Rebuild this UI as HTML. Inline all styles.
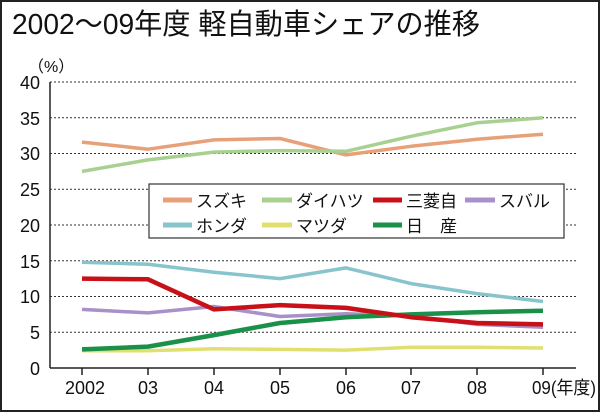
<!DOCTYPE html>
<html><head><meta charset="utf-8"><style>
html,body{margin:0;padding:0;background:#fff}
svg{display:block}
text{font-family:"Liberation Sans","Noto Sans CJK JP",sans-serif;fill:#111}
</style></head><body>
<svg width="600" height="412" viewBox="0 0 600 412" xmlns="http://www.w3.org/2000/svg">
<rect x="1" y="1" width="598" height="410" fill="#fff" stroke="#222" stroke-width="2"/>
<text x="12" y="34" font-size="29" textLength="468" lengthAdjust="spacingAndGlyphs">2002～09年度  軽自動車シェアの推移</text>
<text x="28" y="72" font-size="16">（%）</text>
<g stroke="#333" stroke-width="1" stroke-dasharray="2,2">
<line x1="50" x2="576" y1="82" y2="82"/><line x1="50" x2="576" y1="117.75" y2="117.75"/>
<line x1="50" x2="576" y1="153.5" y2="153.5"/><line x1="50" x2="576" y1="189.25" y2="189.25"/>
<line x1="50" x2="576" y1="225" y2="225"/><line x1="50" x2="576" y1="260.75" y2="260.75"/>
<line x1="50" x2="576" y1="296.5" y2="296.5"/><line x1="50" x2="576" y1="332.25" y2="332.25"/>
</g>
<g stroke="#222" stroke-width="1.5" fill="none">
<line x1="50" y1="82" x2="50" y2="368"/><line x1="50" y1="368" x2="576" y2="368"/>
<path d="M82 368v7M148 368v7M214 368v7M280 368v7M346 368v7M411 368v7M477 368v7M543 368v7"/>
</g>
<g font-size="18" text-anchor="end">
<text x="40" y="89">40</text><text x="40" y="125">35</text><text x="40" y="160">30</text><text x="40" y="196">25</text>
<text x="40" y="232">20</text><text x="40" y="268">15</text><text x="40" y="303">10</text><text x="40" y="339">5</text><text x="40" y="375">0</text>
</g>
<g font-size="18" text-anchor="middle">
<text x="85" y="394">2002</text><text x="148" y="394">03</text><text x="214" y="394">04</text><text x="280" y="394">05</text>
<text x="346" y="394">06</text><text x="411" y="394">07</text><text x="477" y="394">08</text>
</g>
<text x="532" y="394" font-size="18" textLength="64" lengthAdjust="spacingAndGlyphs">09(年度)</text>
<g fill="none" stroke-linejoin="round" stroke-width="3.5">
<polyline stroke="#e8a078" points="82,142.1 148,149.2 214,139.9 280,138.5 346,154.9 411,146.3 477,139.2 543,134.2"/>
<polyline stroke="#a8d090" points="82,171.4 148,159.9 214,152.1 280,150.6 346,151.3 411,136.3 477,122.8 543,117.8"/>
<polyline stroke="#88c4cc" points="82,262.2 148,264.3 214,272.2 280,278.6 346,267.9 411,283.6 477,293.6 543,301.5"/>
<polyline stroke="#a890c8" points="82,309.4 148,312.9 214,306.5 280,316.5 346,313.7 411,315.8 477,324.4 543,327.2"/>
<polyline stroke="#e0e070" points="82,350.8 148,350.8 214,348.7 280,349.4 346,350.1 411,347.3 477,347.3 543,348"/>
<polyline stroke="#1a9048" stroke-width="4.5" points="82,349.4 148,346.6 214,335.1 280,323 346,317.2 411,314.4 477,312.2 543,310.8"/>
<polyline stroke="#c81018" stroke-width="4.5" points="82,278.6 148,279.3 214,309.4 280,305.1 346,307.9 411,317.2 477,323 543,324.4"/>
</g>
<rect x="149" y="184" width="415" height="54" fill="#fff" stroke="#333" stroke-width="1.2"/>
<g stroke-width="5">
<line x1="163" x2="192" y1="200" y2="200" stroke="#e8a078"/>
<line x1="262" x2="292" y1="200" y2="200" stroke="#a8d090"/>
<line x1="373" x2="402" y1="200" y2="200" stroke="#c81018"/>
<line x1="465" x2="495" y1="200" y2="200" stroke="#a890c8"/>
<line x1="163" x2="192" y1="225" y2="225" stroke="#88c4cc"/>
<line x1="262" x2="292" y1="225" y2="225" stroke="#e0e070"/>
<line x1="373" x2="402" y1="225" y2="225" stroke="#1a9048"/>
</g>
<g font-size="17">
<text x="196" y="207">スズキ</text><text x="296" y="207">ダイハツ</text><text x="406" y="207">三菱自</text><text x="499" y="207">スバル</text>
<text x="196" y="232">ホンダ</text><text x="296" y="232">マツダ</text><text x="406" y="232">日　産</text>
</g>
</svg>
</body></html>
